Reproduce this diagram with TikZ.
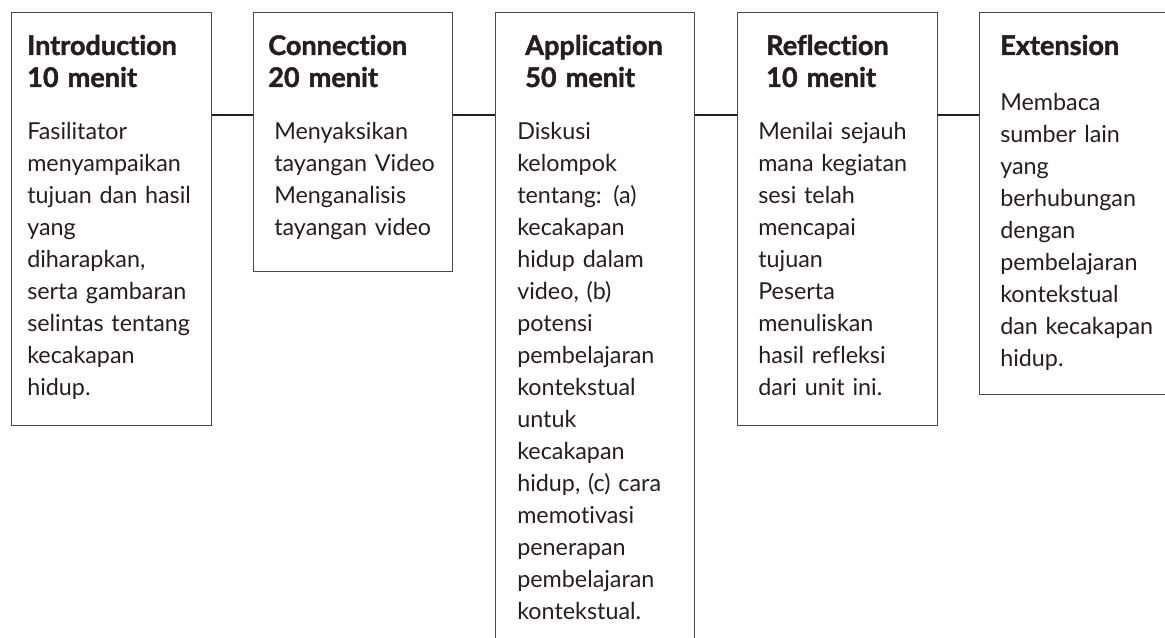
\documentclass[tikz,border=0pt]{standalone}
\usepackage{fontspec}
\setmainfont{Lato}[Ligatures={NoCommon}, BoldFeatures={FakeBold=1.6}]
\usetikzlibrary{calc}
\definecolor{ink}{HTML}{231F20}
\definecolor{frame}{HTML}{4A4A4A}

\begin{document}
\begin{tikzpicture}
        [x=0.75pt,y=-0.75pt,
        phase/.style={draw=frame, line width=0.9pt, anchor=north west, inner sep=0pt},
        head/.style={anchor=base west, inner sep=0pt, text width=150pt, align=left, text=ink,
          font=\fontsize{20.3}{24}\selectfont\bfseries},
        body/.style={anchor=base west, inner sep=0pt, text width=150pt, align=left, text=ink,
          font=\fontsize{17.5}{24}\selectfont},
        link/.style={line width=1.4pt, ink}]

        \clip (0,0) rectangle (1165,638);

        % Phase boxes
        \node[phase, minimum width=150pt, minimum height=309.75pt] (intro) at (11,12) {};
        \node[phase, minimum width=149.25pt, minimum height=194.25pt] (conn) at (253,12) {};
        \node[phase, minimum width=149.25pt, minimum height=480pt] (appl) at (495,12) {};
        \node[phase, minimum width=150pt, minimum height=309.75pt] (refl) at (737,12) {};
        \node[phase, minimum width=150pt, minimum height=286.5pt] (ext) at (979,12) {};

        % Titles
        \node[head] (introHead) at (27,55) {Introduction\\10 menit};
        \node[head] (connHead) at (268,55) {Connection\\20 menit};
        \node[head] (applHead) at (525,55) {Application\\50 menit};
        \node[head] (reflHead) at (766,55) {Reflection\\10 menit};
        \node[head] (extHead) at (1000,55) {Extension};

        % Activities
        \node[body] (introBody) at (27,140) {Fasilitator\\menyampaikan\\tujuan dan hasil\\yang\\diharapkan,\\serta gambaran\\selintas tentang\\kecakapan\\hidup.};
        \node[body] (connBody) at (274,140) {Menyaksikan\\tayangan Video\\Menganalisis\\tayangan video};
        \node[body] (applBody) at (517,140) {Diskusi\\kelompok\\tentang: (a)\\kecakapan\\hidup dalam\\video, (b)\\potensi\\pembelajaran\\kontekstual\\untuk\\kecakapan\\hidup, (c) cara\\memotivasi\\penerapan\\pembelajaran\\kontekstual.};
        \node[body] (reflBody) at (758,140) {Menilai sejauh\\mana kegiatan\\sesi telah\\mencapai\\tujuan\\Peserta\\menuliskan\\hasil refleksi\\dari unit ini.};
        \node[body] (extBody) at (1000,111) {Membaca\\sumber lain\\yang\\berhubungan\\dengan\\pembelajaran\\kontekstual\\dan kecakapan\\hidup.};

        % Links between phases
        \draw[link] ($(intro.north east)+(0,103)$) -- ($(conn.north west)+(0,103)$);
        \draw[link] ($(conn.north east)+(0,103)$) -- ($(appl.north west)+(0,103)$);
        \draw[link] ($(appl.north east)+(0,103)$) -- ($(refl.north west)+(0,103)$);
        \draw[link] ($(refl.north east)+(0,103)$) -- ($(ext.north west)+(0,103)$);

    \end{tikzpicture}
\end{document}
